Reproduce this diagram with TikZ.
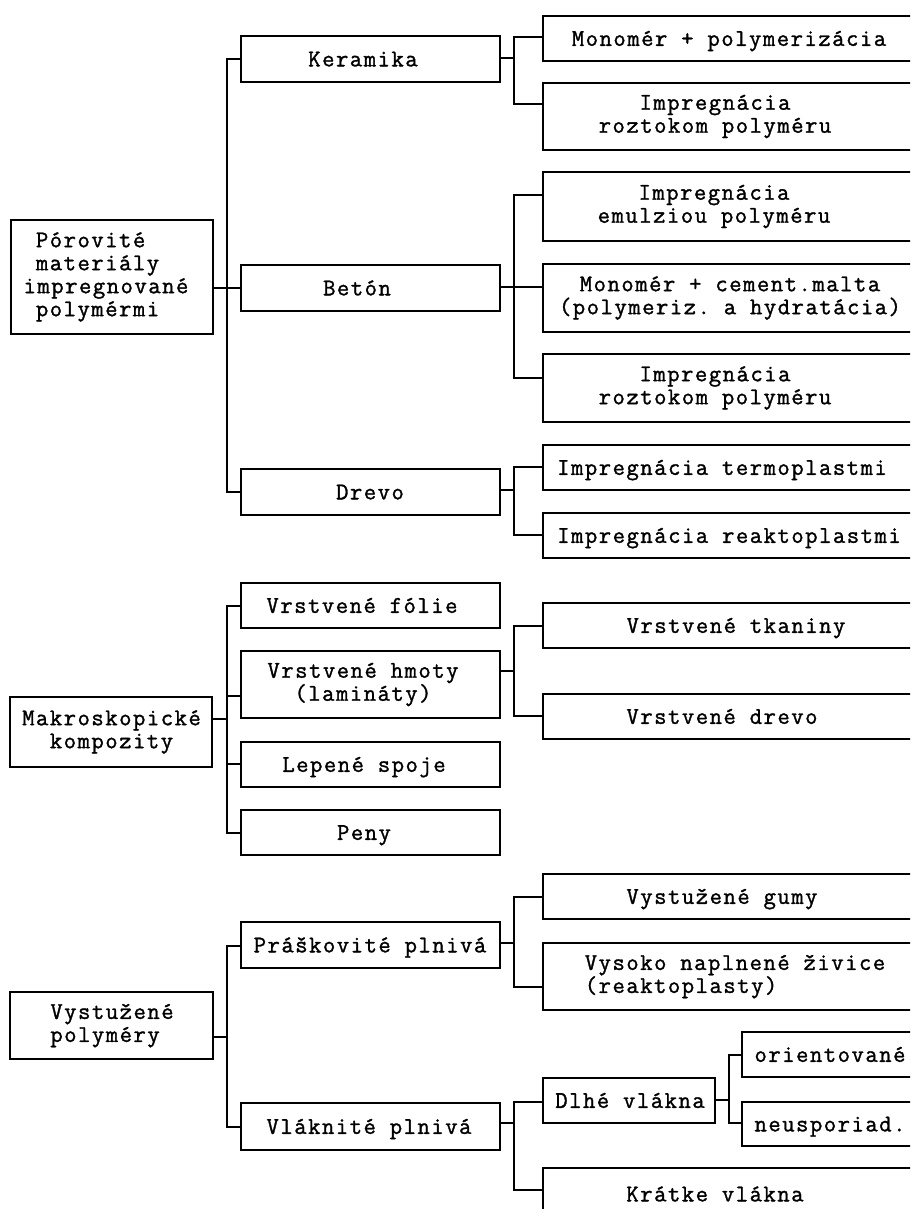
\documentclass[tikz,border=0pt]{standalone}
\usepackage{fontspec}
\setmonofont{Latin Modern Mono}[FakeBold=1.3, LetterSpace=6.25]
% box: name, x1, y1, x2, y2, text x, text style, text
\newcommand\tbox[8]{%
  \node[box, minimum width={(#4-#2)*1pt}, minimum height={(#5-#3)*1pt}] (#1) at ({(#2+#4)/2},{(#3+#5)/2}) {};%
  \node[txt,#7] (#1-t) at (#6,{(#3+#5)/2}) {#8};}
\begin{document}
\begin{tikzpicture}[x=1pt,y=-1pt,
  box/.style={draw, line width=1.6pt, inner sep=0pt, outer sep=0pt},
  txt/.style={font=\ttfamily\fontsize{24}{23}\selectfont, inner sep=0pt, align=center},
  one/.style={text height=14.7pt, text depth=0pt},
  link/.style={line width=1.6pt}]
\useasboundingbox (0,0) rectangle (910,1209);
\fill[white] (0,0) rectangle (910,1209);
\clip (0,0) rectangle (910,1209);

% --- porous materials impregnated with polymers
\tbox{root1}{11}{220}{213}{334}{106}{align=left}{\hphantom{x}Pórovité\\\hphantom{x}materiály\\impregnované\\\hphantom{x}polymérmi}
\tbox{keramika}{241}{36}{500}{82}{363}{one}{Keramika}
\tbox{beton}{241}{265}{500}{311}{357}{one}{Betón}
\tbox{drevo}{241}{469}{500}{515}{370}{one}{Drevo}
\tbox{m1}{543}{16}{930}{61}{729}{one}{Monomér + polymerizácia}
\tbox{r1}{543}{83}{930}{150}{715}{}{Impregnácia\\roztokom polyméru}
\tbox{e1}{543}{172}{930}{241}{714}{}{Impregnácia\\emulziou polyméru}
\tbox{c1}{543}{264}{930}{332}{730}{}{Monomér + cement.malta\\(polymeriz. a hydratácia)}
\tbox{r2}{543}{354}{930}{422}{715}{}{Impregnácia\\roztokom polyméru}
\tbox{t1}{543}{445}{930}{490}{722}{one}{Impregnácia termoplastmi}
\tbox{t2}{543}{513}{930}{558}{729}{one}{Impregnácia reaktoplastmi}

\draw[link] (root1.east |- 0,288) -- (beton.west |- 0,288);
\draw[link] (keramika.west |- 0,59) -| (227,492) -- (drevo.west |- 0,492);
\draw[link] (keramika.east |- 0,58) -- (514,58);
\draw[link] (m1.west |- 0,37) -| (514,104) -- (r1.west |- 0,104);
\draw[link] (beton.east |- 0,287) -- (c1.west |- 0,287);
\draw[link] (e1.west |- 0,195) -| (514,378) -- (r2.west |- 0,378);
\draw[link] (drevo.east |- 0,490) -- (514,490);
\draw[link] (t1.west |- 0,467) -| (514,535) -- (t2.west |- 0,535);

% --- macroscopic composites
\tbox{root2}{10}{697}{212}{767}{111.5}{}{Makroskopické\\kompozity}
\tbox{folie}{241}{583}{500}{628}{362}{one}{Vrstvené fólie}
\tbox{hmoty}{241}{651}{500}{718}{363}{}{Vrstvené hmoty\\(lamináty)}
\tbox{lepene}{241}{742}{500}{787}{364}{one}{Lepené spoje}
\tbox{peny}{241}{810}{500}{855}{364}{one}{Peny}
\tbox{tkaniny}{543}{603}{930}{648}{736}{one}{Vrstvené tkaniny}
\tbox{vdrevo}{543}{694}{930}{739}{722}{one}{Vrstvené drevo}

\draw[link] (root2.east |- 0,719) -- (227,719);
\draw[link] (folie.west |- 0,606) -| (227,833) -- (peny.west |- 0,833);
\draw[link] (227,696) -- (hmoty.west |- 0,696);
\draw[link] (227,764) -- (lepene.west |- 0,764);
\draw[link] (hmoty.east |- 0,671) -- (514,671);
\draw[link] (tkaniny.west |- 0,626) -| (514,716) -- (vdrevo.west |- 0,716);

% --- reinforced polymers
\tbox{root3}{10}{992}{213}{1059}{112}{align=left}{Vystužené\\polyméry}
\tbox{prask}{241}{922}{500}{968}{370}{one}{Práškovité plnivá}
\tbox{vlakn}{241}{1103}{500}{1150}{369}{one}{Vláknité plnivá}
\tbox{gumy}{543}{874}{930}{919}{722}{one}{Vystužené gumy}
\tbox{vysoko}{543}{943}{930}{1010}{735}{align=left}{Vysoko naplnené živice\\(reaktoplasty)}
\tbox{dlhe}{543}{1078}{715}{1123}{630}{one}{Dlhé vlákna}
\tbox{orient}{742}{1032}{930}{1077}{830}{one}{orientované}
\tbox{neusp}{742}{1102}{930}{1146}{830}{one}{neusporiad.}
\tbox{kratke}{543}{1168}{930}{1220}{715}{one}{Krátke vlákna}

\draw[link] (root3.east |- 0,1037) -- (227,1037);
\draw[link] (prask.west |- 0,946) -| (227,1127) -- (vlakn.west |- 0,1127);
\draw[link] (prask.east |- 0,943) -- (514,943);
\draw[link] (gumy.west |- 0,897) -| (514,987) -- (vysoko.west |- 0,987);
\draw[link] (vlakn.east |- 0,1123) -- (514,1123);
\draw[link] (dlhe.west |- 0,1102) -| (514,1190) -- (kratke.west |- 0,1190);
\draw[link] (dlhe.east |- 0,1100) -- (729,1100);
\draw[link] (orient.west |- 0,1055) -| (729,1123) -- (neusp.west |- 0,1123);
\end{tikzpicture}
\end{document}
